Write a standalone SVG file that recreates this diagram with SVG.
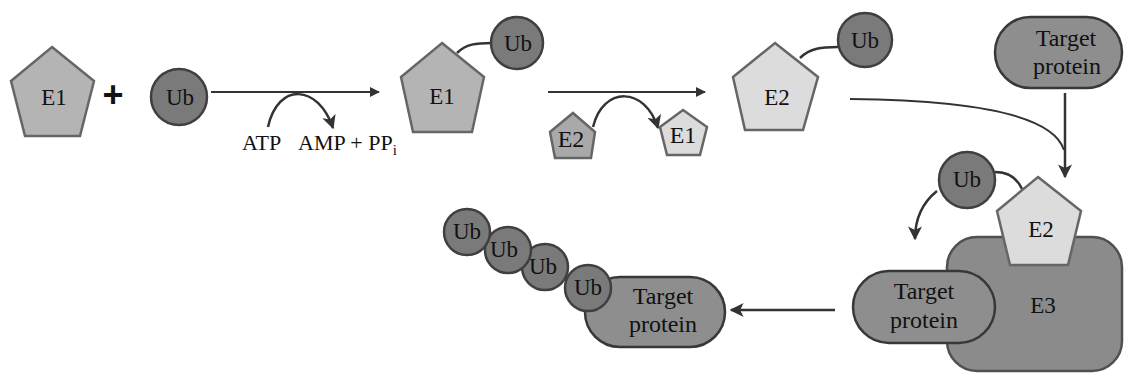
<svg xmlns="http://www.w3.org/2000/svg" width="1125" height="375" viewBox="0 0 1125 375">
<defs>
<marker id="ah" viewBox="0 0 10 10" refX="9" refY="5" markerWidth="10" markerHeight="10" markerUnits="userSpaceOnUse" orient="auto">
<path d="M0,0 L10,5 L0,10 Z" fill="#333"/>
</marker>
<marker id="ahb" viewBox="0 0 10 10" refX="9" refY="5" markerWidth="14" markerHeight="14" markerUnits="userSpaceOnUse" orient="auto">
<path d="M0,0 L10,5 L0,10 L2.5,5 Z" fill="#333"/>
</marker>
</defs>
<style>
text{font-family:'Liberation Serif','Times New Roman',serif;fill:#111}
.t{font-size:23px;text-anchor:middle}
.ts{font-size:24px;text-anchor:middle}
.tl{font-size:22px;text-anchor:start}
.tp{font-size:24px;text-anchor:middle}
.pe1{fill:#b4b4b4;stroke:#666;stroke-width:2.5}
.pe2{fill:#dcdcdc;stroke:#666;stroke-width:2.5}
.pe2d{fill:#a9a9a9;stroke:#666;stroke-width:2.5}
.ub{fill:#7a7a7a;stroke:#3f3f3f;stroke-width:2.5}
.pill{fill:#8e8e8e;stroke:#383838;stroke-width:2.5}
.e3{fill:#8b8b8b;stroke:#505050;stroke-width:2.5}
.c{fill:none;stroke:#333;stroke-width:2}
.cb{fill:none;stroke:#333;stroke-width:2.5}
.bond{fill:none;stroke:#333;stroke-width:2.5}
</style>
<rect width="1125" height="375" fill="#fff"/>

<g id="connectors">
<line class="c" x1="211" y1="92" x2="379" y2="92" marker-end="url(#ah)"/>
<path class="cb" d="M268,127 C278,82 318,84 333,128" marker-end="url(#ahb)"/>
<line class="c" x1="548" y1="92" x2="705" y2="92" marker-end="url(#ah)"/>
<path class="cb" d="M593,127 C603,86 645,86 658,128" marker-end="url(#ahb)"/>
<path class="c" d="M850,99 C960,100 1052,112 1064,150"/>
<line class="cb" x1="1065" y1="93" x2="1065" y2="177" marker-end="url(#ahb)"/>
<path class="cb" d="M937,191 C922,203 915,220 915,239" marker-end="url(#ahb)"/>
<line class="cb" x1="835" y1="310" x2="731" y2="310" marker-end="url(#ahb)"/>
<path class="bond" d="M457,53 C466,44 476,43 492,43"/>
<path class="bond" d="M800,58 C810,48 822,47 838,47"/>
<path class="bond" d="M995,172 C1010,172 1018,180 1022,189"/>
</g>

<g id="e1-start">
<polygon class="pe1" points="52,47 94,81 80,136 25,136 11,81"/>
<text class="t" x="54" y="105">E1</text>
</g>
<g id="plus">
<text x="113" y="107" style="font-family:'Liberation Sans',Arial,sans-serif;font-weight:bold;font-size:36px;text-anchor:middle">+</text>
</g>
<g id="ub-start">
<circle class="ub" cx="179" cy="97" r="28"/>
<text class="t" x="180" y="105">Ub</text>
</g>
<g id="atp-label">
<text class="tl" x="242" y="150">ATP</text>
<text class="tl" x="298" y="150">AMP + PP<tspan style="font-size:15px" dy="5">i</tspan></text>
</g>

<g id="e1-ub">
<polygon class="pe1" points="442,43 484,77 472,132 413,132 401,77"/>
<text class="t" x="442" y="104">E1</text>
<circle class="ub" cx="517" cy="43" r="26"/>
<text class="t" x="518" y="51">Ub</text>
</g>

<g id="e2-small">
<polygon class="pe2d" points="573,113 595,132 591,158 555,158 550,132"/>
<text class="ts" x="571" y="147">E2</text>
</g>
<g id="e1-small">
<polygon class="pe2" points="683,110 707,127 700,155 667,155 660,127"/>
<text class="ts" x="683" y="143">E1</text>
</g>

<g id="e2-ub">
<polygon class="pe2" points="775,43 818,77 803,130 745,130 733,77"/>
<text class="t" x="777" y="105">E2</text>
<circle class="ub" cx="865" cy="40" r="27"/>
<text class="t" x="865" y="48">Ub</text>
</g>

<g id="target-top">
<rect class="pill" x="995" y="17" width="127" height="71" rx="35.5"/>
<text class="tp" x="1066" y="46">Target</text>
<text class="tp" x="1067" y="74">protein</text>
</g>

<g id="e3-complex">
<rect class="e3" x="947" y="237" width="175" height="134" rx="30"/>
<text class="t" x="1043" y="313">E3</text>
<polygon class="pe2" points="1038,177 1081,211 1068,265 1010,265 997,211"/>
<text class="t" x="1041" y="237">E2</text>
<rect class="pill" x="853" y="271" width="142" height="72" rx="36"/>
<text class="tp" x="924" y="299">Target</text>
<text class="tp" x="924" y="328">protein</text>
</g>

<g id="ub-bottom">
<circle class="ub" cx="967" cy="180" r="28"/>
<text class="t" x="967" y="187">Ub</text>
</g>

<g id="polyub-target">
<rect class="pill" x="585" y="277" width="140" height="70" rx="35"/>
<text class="tp" x="663" y="304">Target</text>
<text class="tp" x="663" y="332">protein</text>
<circle class="ub" cx="588" cy="288" r="23"/>
<text class="t" x="588" y="295">Ub</text>
<circle class="ub" cx="545" cy="267" r="23"/>
<text class="t" x="543" y="274">Ub</text>
<circle class="ub" cx="508" cy="250" r="23"/>
<text class="t" x="504" y="257">Ub</text>
<circle class="ub" cx="467" cy="232" r="23"/>
<text class="t" x="467" y="239">Ub</text>
</g>
</svg>
